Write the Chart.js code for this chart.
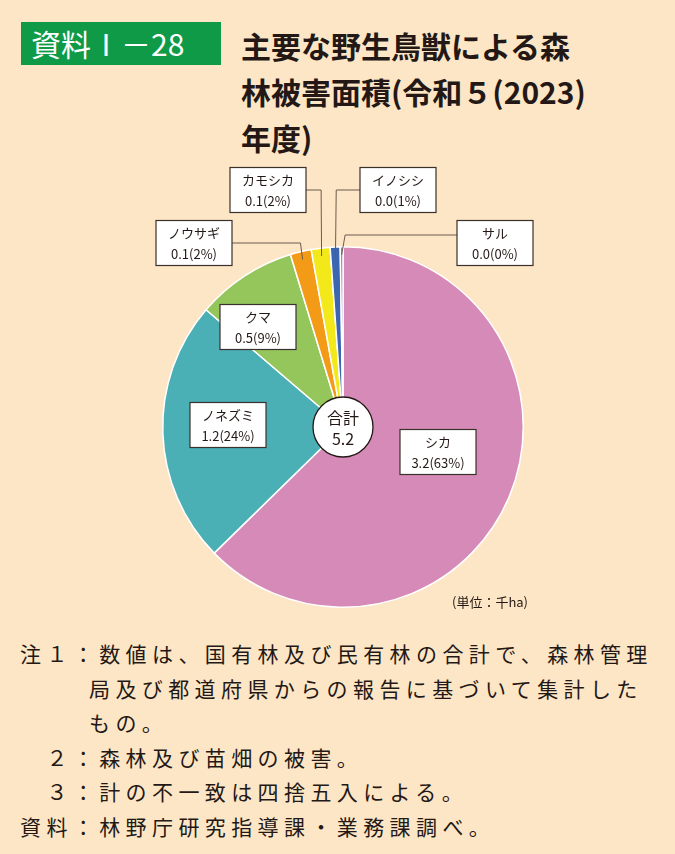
<!DOCTYPE html>
<html lang="ja">
<head>
<meta charset="UTF-8">
<script src="https://cdn.jsdelivr.net/npm/chart.js"></script>
<style>
  body { margin:0; width:675px; height:854px; background:#fde6c6; font-family:"Noto Sans CJK JP",sans-serif; color:#231815; position:relative; overflow:hidden; }
  .tag { position:absolute; left:21px; top:22px; width:200px; height:43px; background:#0f9a48; color:#fff; font-size:30px; line-height:43px; padding-left:10px; box-sizing:border-box; white-space:nowrap; }
  .title { position:absolute; left:241px; top:22px; font-size:30px; font-weight:bold; line-height:46px; white-space:nowrap; }
  #wrap { position:absolute; left:0; top:160px; width:675px; height:460px; }
  .unit { position:absolute; left:452px; top:592px; font-size:13px; }
  .notes { position:absolute; left:20px; top:636px; font-size:21px; line-height:34.5px; letter-spacing:5.4px; }
  .notes div { white-space:nowrap; }
  .ind { padding-left:69px; }
</style>
</head>
<body>
<div class="tag">資料Ⅰ－28</div>
<div class="title">主要な野生鳥獣による森<br>林被害面積(令和５(2023)<br>年度)</div>
<div id="wrap"><canvas id="pie" width="675" height="460"></canvas></div>
<div class="unit">(単位：千ha)</div>
<div class="notes">
  <div>注１：数値は、国有林及び民有林の合計で、森林管理</div>
  <div class="ind">局及び都道府県からの報告に基づいて集計した</div>
  <div class="ind">もの。</div>
  <div>　２：森林及び苗畑の被害。</div>
  <div>　３：計の不一致は四捨五入による。</div>
  <div>資料：林野庁研究指導課・業務課調べ。</div>
</div>
<script>
// 被害面積 (千ha) と割合
var categories = ['シカ', 'ノネズミ', 'クマ', 'ノウサギ', 'カモシカ', 'イノシシ', 'サル'];
var areaLabels = ['3.2', '1.2', '0.5', '0.1', '0.1', '0.0', '0.0'];
var shares = [63.2, 23.8, 9.1, 1.9, 1.7, 0.9, 0.25];
var pctLabels = ['63%', '24%', '9%', '2%', '2%', '1%', '0%'];
var colors = ['#d68ab8', '#4bafb6', '#95c65c', '#f39a17', '#f3e819', '#3d66b0', '#8e7cc3'];
var total = '5.2';

// label box placement (canvas layout, centre of box) and inside/outside flag
var boxPos = [[438, 292, 0], [228, 265, 0], [258, 167, 0], [194, 83, 1], [268, 30, 1], [398, 30, 1], [495, 83, 1]];

var labelPlugin = {
  id: 'labels',
  afterDraw: function (chart) {
    var c = chart.ctx;
    var arcs = chart.getDatasetMeta(0).data;
    c.save();
    c.font = '13px "Noto Sans CJK JP"';
    c.textAlign = 'center';
    c.textBaseline = 'middle';
    arcs.forEach(function (a, i) {
      var bx = boxPos[i][0], by = boxPos[i][1], out = boxPos[i][2];
      var w = 76, h = 45;
      if (out) {
        var mid = (a.startAngle + a.endAngle) / 2;
        var px = a.x + Math.cos(mid) * (a.outerRadius - 8);
        var py = a.y + Math.sin(mid) * (a.outerRadius - 8);
        var ly = i === 6 ? by - 8 : by;
        var ex = bx < px ? bx + w / 2 : bx - w / 2;
        c.strokeStyle = '#6b5a4e';
        c.lineWidth = 1;
        c.beginPath();
        c.moveTo(ex, ly);
        c.lineTo(px - (px - ex) * 0.03, ly);
        c.lineTo(px, py);
        c.stroke();
      }
      c.fillStyle = '#fff';
      c.fillRect(bx - w / 2, by - h / 2, w, h);
      c.strokeStyle = '#3b302a';
      c.lineWidth = 1.2;
      c.strokeRect(bx - w / 2, by - h / 2, w, h);
      c.fillStyle = '#231815';
      c.fillText(categories[i], bx, by - 10);
      c.fillText(areaLabels[i] + '(' + pctLabels[i] + ')', bx, by + 11);
    });
    var cx = arcs[0].x, cy = arcs[0].y;
    c.beginPath();
    c.arc(cx, cy, 30, 0, Math.PI * 2);
    c.fillStyle = '#fff';
    c.fill();
    c.strokeStyle = '#231815';
    c.lineWidth = 1.3;
    c.stroke();
    c.fillStyle = '#231815';
    c.font = '16px "Noto Sans CJK JP"';
    c.fillText('合計', cx, cy - 9);
    c.fillText(total, cx, cy + 12);
    c.restore();
  }
};

new Chart(document.getElementById('pie'), {
  type: 'pie',
  data: {
    labels: categories,
    datasets: [{
      data: shares,
      backgroundColor: colors,
      borderColor: '#ffffff',
      borderWidth: 1.5
    }]
  },
  options: {
    responsive: false,
    animation: false,
    layout: { padding: { left: 11, right: 0, top: 86, bottom: 12 } },
    plugins: { legend: { display: false }, tooltip: { enabled: false } }
  },
  plugins: [labelPlugin]
});
</script>
</body>
</html>
